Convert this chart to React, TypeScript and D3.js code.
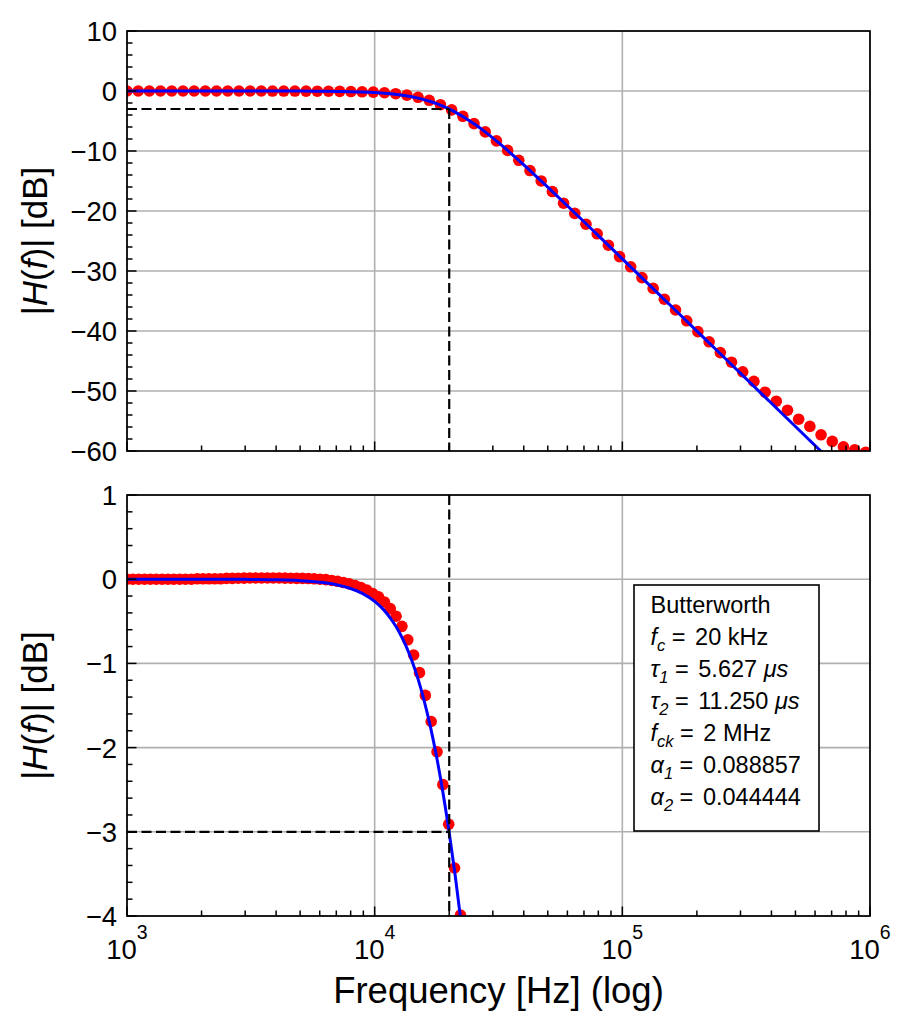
import React from 'react';
import * as d3 from 'd3';

// measured (red dots), top panel: frequency in Hz and gain in dB
const topFreqHz = [
  1000, 1110, 1231, 1366, 1516, 1683, 1867, 2072, 2299, 2551,
  2831, 3142, 3486, 3869, 4293, 4764, 5287, 5867, 6510, 7224,
  8017, 8896, 9872, 10955, 12157, 13490, 14970, 16610, 18430, 20460,
  22700, 25190, 27950, 31020, 34420, 38190, 42380, 47030, 52190, 57910,
  64270, 71320, 79140, 87820, 97450, 108100, 120000, 133200, 147800, 164000,
  182000, 201900, 224100, 248700, 275900, 306200, 339800, 377100, 418400, 464300,
  515200, 571700, 634400, 704000, 781300, 866900, 962000,
];
const topGainDb = [
  0, 0, 0, 0, 0, 0, 0, 0, 0, 0,
  0, 0, 0, -0.01, -0.01, -0.01, -0.02, -0.03, -0.04, -0.06,
  -0.09, -0.13, -0.19, -0.29, -0.45, -0.69, -1.05, -1.55, -2.28, -3.15,
  -4.22, -5.44, -6.82, -8.31, -9.9, -11.55, -13.26, -14.99, -16.76, -18.7,
  -20.4, -22.2, -23.8, -25.7, -27.6, -29.3, -31.1, -32.9, -34.7, -36.5,
  -38.3, -40.1, -41.8, -43.6, -45.2, -46.8, -48.4, -50.2, -51.7, -53.2,
  -54.7, -55.9, -57.3, -58.4, -59.3, -59.8, -60.2,
];

// measured (red dots), bottom panel (denser sampling)
const botFreqHz = [
  1000, 1056, 1115, 1177, 1243, 1313, 1386, 1464, 1545, 1632,
  1723, 1819, 1921, 2028, 2142, 2261, 2388, 2521, 2662, 2811,
  2968, 3134, 3309, 3494, 3689, 3895, 4113, 4343, 4585, 4842,
  5112, 5398, 5700, 6018, 6354, 6710, 7085, 7481, 7899, 8340,
  8806, 9298, 9818, 10366, 10946, 11557, 12203, 12885, 13606, 14366,
  15169, 16016, 16911, 17856, 18854, 19908, 21020, 22195,
];
const botGainDb = [
  0, 0, 0, 0, 0, 0, 0, 0, 0, 0,
  0, 0, 0.005, 0.005, 0.005, 0.005, 0.005, 0.01, 0.01, 0.012,
  0.013, 0.015, 0.015, 0.015, 0.015, 0.015, 0.015, 0.013, 0.012, 0.01,
  0.01, 0.008, 0.005, 0, -0.005, -0.015, -0.025, -0.04, -0.055, -0.075,
  -0.1, -0.13, -0.17, -0.21, -0.27, -0.35, -0.44, -0.56, -0.72, -0.9,
  -1.11, -1.38, -1.69, -2.05, -2.44, -2.91, -3.43, -3.99,
];

// theoretical response (blue line)
const curveFreqHz = [
  1000, 1585, 2512, 3162, 3981, 5012, 6310, 7079, 7943, 8913,
  10000, 10593, 11220, 11885, 12589, 13335, 14125, 14962, 15849, 16788,
  17783, 18836, 19953, 21135, 22387, 23714, 25119, 28184, 31623, 35481,
  39811, 44668, 50119, 63096, 79433, 100000, 158489, 251189, 398107, 630957,
  794328,
];
const curveGainDb = [
  0, 0, 0, -0.003, -0.007, -0.017, -0.043, -0.068, -0.107, -0.168,
  -0.263, -0.329, -0.41, -0.511, -0.632, -0.783, -0.966, -1.184, -1.444, -1.751,
  -2.109, -2.521, -2.99, -3.516, -4.1, -4.737, -5.427, -6.943, -8.604, -10.378,
  -12.227, -14.131, -16.069, -20.003, -23.977, -27.967, -35.96, -43.96, -51.96, -59.96,
  -63.96,
];

const cutoffHz = 20000;
const cutoffDb = -3;

const xMajor = [1e3, 1e4, 1e5, 1e6];
const xExp = ['3', '4', '5', '6'];
const topYMajor = [10, 0, -10, -20, -30, -40, -50, -60];
const botYMajor = [1, 0, -1, -2, -3, -4];

const FONT = '"Liberation Sans", Arial, Helvetica, sans-serif';
const L = 127;
const R = 870;

const x = d3.scaleLog().domain([1e3, 1e6]).range([L, R]);
const xMinor: number[] = [];
[1e3, 1e4, 1e5].forEach((d) => {
  for (let k = 2; k <= 9; k++) xMinor.push(k * d);
});

const fmt = (v: number) => (v < 0 ? '\u2212' + Math.abs(v) : String(v));

type PanelProps = {
  id: string;
  top: number;
  bottom: number;
  domain: [number, number];
  major: number[];
  minorStep: number;
  freqs: number[];
  gains: number[];
  showX: boolean;
  vFrom: number;
};

const Panel: React.FC<PanelProps> = ({ id, top, bottom, domain, major, minorStep, freqs, gains, showX, vFrom }) => {
  const y = d3.scaleLinear().domain(domain).range([bottom, top]);
  const minorY = d3.range(domain[0], domain[1] + 1e-9, minorStep).filter(
    (v) => !major.some((m) => Math.abs(m - v) < 1e-6)
  );
  const line = d3
    .line<number>()
    .x((_, i) => x(curveFreqHz[i]))
    .y((d) => y(d))
    .curve(d3.curveMonotoneX);

  return (
    <g>
      <defs>
        <clipPath id={id}>
          <rect x={L} y={top} width={R - L} height={bottom - top} />
        </clipPath>
      </defs>
      {/* grid */}
      <g stroke="#b0b0b0" strokeWidth={1.6}>
        {xMajor.map((f) => (
          <line key={'gx' + f} x1={x(f)} x2={x(f)} y1={top} y2={bottom} />
        ))}
        {major.map((v) => (
          <line key={'gy' + v} x1={L} x2={R} y1={y(v)} y2={y(v)} />
        ))}
      </g>
      <g clipPath={`url(#${id})`}>
        {freqs.map((f, i) => (
          <circle key={i} cx={x(f)} cy={y(gains[i])} r={5.8} fill="#ff0000" />
        ))}
        <path d={line(curveGainDb) || ''} fill="none" stroke="#0000ff" strokeWidth={3} />
        <g stroke="#000" strokeWidth={2.2} strokeDasharray="10,4.5" fill="none">
          <line x1={L} x2={x(cutoffHz)} y1={y(cutoffDb)} y2={y(cutoffDb)} />
          <line x1={x(cutoffHz)} x2={x(cutoffHz)} y1={y(vFrom)} y2={bottom} />
        </g>
      </g>
      {/* ticks, inward */}
      <g stroke="#000" strokeWidth={1.5}>
        {major.map((v) => (
          <line key={'ty' + v} x1={L} x2={L + 9.5} y1={y(v)} y2={y(v)} />
        ))}
        {minorY.map((v) => (
          <line key={'tmy' + v} x1={L} x2={L + 5.5} y1={y(v)} y2={y(v)} />
        ))}
        {xMajor.map((f) => (
          <line key={'tx' + f} x1={x(f)} x2={x(f)} y1={bottom} y2={bottom - 9.5} />
        ))}
        {xMinor.map((f) => (
          <line key={'tmx' + f} x1={x(f)} x2={x(f)} y1={bottom} y2={bottom - 5.5} />
        ))}
      </g>
      <rect x={L} y={top} width={R - L} height={bottom - top} fill="none" stroke="#000" strokeWidth={1.7} />
      {/* y tick labels */}
      <g fontFamily={FONT} fontSize={27.5} textAnchor="end" fill="#000">
        {major.map((v) => (
          <text key={'ly' + v} x={L - 10} y={y(v) + 9.9}>
            {fmt(v)}
          </text>
        ))}
      </g>
      {showX && (
        <g fontFamily={FONT} fontSize={27.5} textAnchor="middle" fill="#000">
          {xMajor.map((f, i) => (
            <text key={'lx' + f} x={x(f)} y={959}>
              <tspan>10</tspan>
              <tspan dy={-20} fontSize={19.5}>
                {xExp[i]}
              </tspan>
            </text>
          ))}
        </g>
      )}
      <text
        transform={`translate(47,${(top + bottom) / 2}) rotate(-90)`}
        textAnchor="middle"
        fontFamily={FONT}
        fontSize={35}
        fill="#000"
      >
        |<tspan fontStyle="italic">H</tspan>(<tspan fontStyle="italic">f</tspan>)| [dB]
      </text>
    </g>
  );
};

const Sub: React.FC<{ main: string; sub: string; rest: string }> = ({ main, sub, rest }) => (
  <>
    <tspan fontStyle="italic">{main}</tspan>
    <tspan fontStyle="italic" fontSize={16.5} dy={6}>
      {sub}
    </tspan>
    <tspan dy={-6}>{' = '}</tspan>
    <tspan dx={3}>{rest}</tspan>
  </>
);

const App: React.FC = () => {
  const bx = 650.5;
  const by = 612.5;
  const lh = 32;
  return (
    <svg
      width={913}
      height={1030}
      style={{ position: 'absolute', left: 0, top: 0, background: '#fff' }}
    >
      <rect width={913} height={1030} fill="#fff" />
      <Panel
        id="clipTop"
        top={31}
        bottom={451}
        domain={[-60, 10]}
        major={topYMajor}
        minorStep={2}
        freqs={topFreqHz}
        gains={topGainDb}
        showX={false}
        vFrom={cutoffDb}
      />
      <Panel
        id="clipBot"
        top={495}
        bottom={916}
        domain={[-4, 1]}
        major={botYMajor}
        minorStep={0.2}
        freqs={botFreqHz}
        gains={botGainDb}
        showX={true}
        vFrom={1}
      />
      <text x={(L + R) / 2} y={1003} textAnchor="middle" fontFamily={FONT} fontSize={36.5} fill="#000">
        Frequency [Hz] (log)
      </text>
      {/* parameter box */}
      <rect x={634} y={585} width={185} height={246} fill="#fff" stroke="#000" strokeWidth={1.6} />
      <g fontFamily={FONT} fontSize={23.5} fill="#000">
        <text x={bx} y={by}>Butterworth</text>
        <text x={bx} y={by + lh}>
          <Sub main="f" sub="c" rest="20 kHz" />
        </text>
        <text x={bx} y={by + 2 * lh}>
          <Sub main={'\u03c4'} sub="1" rest="5.627 " />
          <tspan fontStyle="italic">{'\u03bcs'}</tspan>
        </text>
        <text x={bx} y={by + 3 * lh}>
          <Sub main={'\u03c4'} sub="2" rest="11.250 " />
          <tspan fontStyle="italic">{'\u03bcs'}</tspan>
        </text>
        <text x={bx} y={by + 4 * lh}>
          <Sub main="f" sub="ck" rest="2 MHz" />
        </text>
        <text x={bx} y={by + 5 * lh}>
          <Sub main={'\u03b1'} sub="1" rest="0.088857" />
        </text>
        <text x={bx} y={by + 6 * lh}>
          <Sub main={'\u03b1'} sub="2" rest="0.044444" />
        </text>
      </g>
    </svg>
  );
};

export default App;
